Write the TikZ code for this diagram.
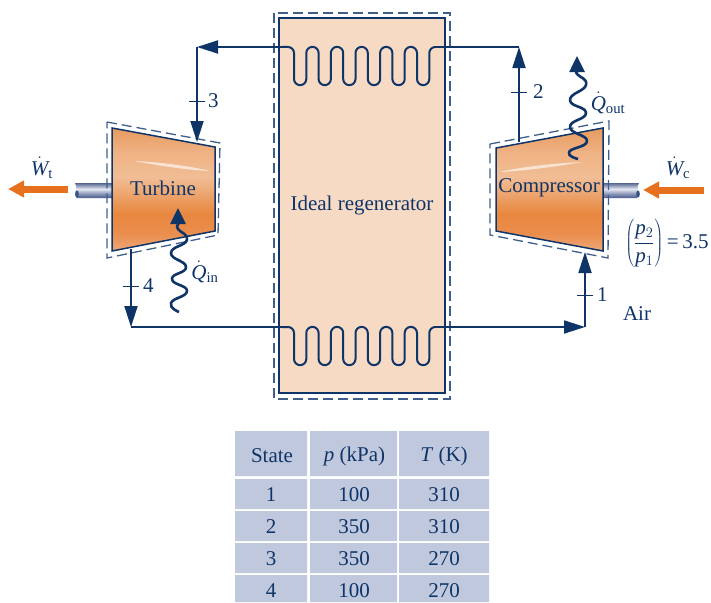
\documentclass[tikz,border=0pt]{standalone}
\usepackage{fontspec}
\setmainfont{Liberation Serif}
\usetikzlibrary{arrows.meta, positioning, calc}

\definecolor{navy}{HTML}{0F3468}
\definecolor{dashblue}{HTML}{3F5F8A}
\definecolor{regenfill}{HTML}{F7DAC4}
\definecolor{workorange}{HTML}{E6701E}
\definecolor{tablefill}{HTML}{C0C8DD}
\definecolor{mca}{HTML}{EFA877}
\definecolor{mcb}{HTML}{EA8E4E}
\definecolor{mcc}{HTML}{E8873F}
\definecolor{mcd}{HTML}{F1BD95}
\definecolor{mce}{HTML}{EFB384}
\definecolor{mcf}{HTML}{E79A5F}
\definecolor{sca}{HTML}{4A5A88}
\definecolor{scb}{HTML}{8490B5}
\definecolor{scc}{HTML}{E4E8F2}
\definecolor{scd}{HTML}{55658F}

\pgfdeclareverticalshading{machineshade}{100bp}{
    color(0bp)=(mca); color(25bp)=(mca); color(32bp)=(mcb);
    color(40bp)=(mcc); color(55bp)=(mcd); color(65bp)=(mce);
    color(75bp)=(mcf); color(100bp)=(mcf)}
\pgfdeclareverticalshading{shaftshade}{100bp}{
    color(0bp)=(sca); color(25bp)=(sca); color(38bp)=(scb);
    color(55bp)=(scc); color(75bp)=(scd); color(100bp)=(scd)}

\tikzset{
    coil/.pic={
        \coordinate (-in) at (0,0);
        \draw[flow, line width=2pt] (-in) -- ++(6,0) arc[start angle=90, end angle=0, radius=6pt] -- ++(0,26)
            foreach \n in {1,...,5} {
                arc[start angle=180, end angle=360, radius=6.15pt] -- ++(0,-26)
                arc[start angle=180, end angle=0, radius=6.15pt] -- ++(0,26)
            }
            arc[start angle=180, end angle=360, radius=6.15pt] -- ++(0,-26)
            arc[start angle=180, end angle=90, radius=6pt] coordinate (-out);
    }
}

\begin{document}
\begin{tikzpicture}[
    x=1pt, y=-1pt,
    every node/.style={font=\fontsize{21}{24}\selectfont, text=navy, inner sep=0pt},
    flow/.style={draw=navy, line width=1.8pt, line join=round},
    arrow/.style={flow, -{Triangle[length=21pt, width=13pt]}},
    wave/.style={flow, line width=2.6pt, -{Triangle[length=16pt, width=15pt]}},
    tick/.style={navy, line width=1pt},
    boundary/.style={draw=dashblue, line width=1.3pt, dash pattern=on 10pt off 5pt},
    machine/.style={draw=navy, line width=1.5pt},
    work/.style={draw=workorange, line width=7pt, -{Triangle[length=16pt, width=16pt]}},
    cell/.style={fill=tablefill},
    glint/.style={fill=white, fill opacity=0.6},
    lbl/.style={}
]
\useasboundingbox (0,0) rectangle (711,602);

% ============ REGENERATOR ============
\path[fill=regenfill, draw=navy, line width=1.5pt] (279,18) rectangle (445,393);
\path[boundary] (274,13) rectangle (450,399);
\node[lbl] (regen) at (362,205) {Ideal regenerator};

% ============ TURBINE ============
\shade[shading=shaftshade] (112,183) -- (75,183) .. controls (79,188) and (72,193) .. (77,198) -- (112,198) -- cycle;
\fill[navy!85] (77,194) ellipse (1.8 and 3.5);
\shade[shading=machineshade] (112,128) -- (215,147) -- (215,231) -- (112,251) -- cycle;
\draw[machine] (112,128) -- (215,147) -- (215,231) -- (112,251) -- cycle;
\fill[glint] (134,161) .. controls (160,162) and (190,166) .. (210,171) .. controls (185,170) and (155,165) .. (134,161) -- cycle;
\path[boundary] (107,122) -- (220,143) -- (218,235) -- (107,258) -- cycle;
\node[lbl] (turbine) at (163,188) {Turbine};

% ============ COMPRESSOR ============
\shade[shading=shaftshade] (603,183) -- (639,183) .. controls (635,188) and (641,193) .. (637,198) -- (603,198) -- cycle;
\fill[navy!85] (638,194) ellipse (1.8 and 3.5);
\shade[shading=machineshade] (496,148) -- (603,128) -- (603,251) -- (496,231) -- cycle;
\draw[machine] (496,148) -- (603,128) -- (603,251) -- (496,231) -- cycle;
\fill[glint] (500,172) .. controls (525,166) and (560,163) .. (582,162) .. controls (560,166) and (525,171) .. (500,172) -- cycle;
\path[boundary] (490,144) -- (609,121) -- (608,258) -- (490,235) -- cycle;
\node[lbl] (compressor) at (549,188) {Compressor};

% ============ COILS ============
\pic (coiltop) at (282,47) {coil};
\pic (coilbot) at (282,327) {coil};

% ============ CONNECTIONS ============
\coordinate (state2) at (519,142);
\coordinate (corner2) at (519,47);
\coordinate (corner3) at (197,47);
\coordinate (state3) at (197,142);
\coordinate (state4) at (131,249);
\coordinate (corner4) at (131,327);
\coordinate (corner1) at (585,327);
\coordinate (state1) at (585,252);

\draw[arrow] (state2) -- (corner2);
\draw[flow] (corner2) -- (coiltop-out);
\draw[arrow] (coiltop-in) -- (corner3);
\draw[arrow] (corner3) -- (state3);
\draw[arrow] (state4) -- (corner4);
\draw[flow] (corner4) -- (coilbot-in);
\draw[arrow] (coilbot-out) -- (corner1);
\draw[arrow] (corner1) -- (state1);

% Heat transfer
\draw[wave] plot[smooth, tension=0.9] coordinates {(179,312) (171,303) (187,291) (172,279) (186,267) (171,253) (187,240) (178,229) (178,225)} -- (178,208);
\draw[wave] plot[smooth, tension=0.9] coordinates {(578,159) (569,152) (587,141) (570,127) (586,113) (570,100) (586,85) (577,74) (577,72)} -- (577,56);

% Work
\coordinate (workt-a) at (68,189);
\coordinate (workt-b) at (8,189);
\coordinate (workc-a) at (704,190);
\coordinate (workc-b) at (643,190);
\draw[work] (workt-a) -- (workt-b);
\draw[work] (workc-a) -- (workc-b);

% ============ STATE TICKS ============
\coordinate (tick3) at (197,101);
\coordinate (tick4) at (131,286);
\coordinate (tick2) at (519,92);
\coordinate (tick1) at (585,295);
\foreach \t in {tick1,tick2,tick3,tick4}
    \draw[tick] ($(\t)+(-8,0)$) -- ($(\t)+(8,0)$);
\node[lbl, right=11pt of tick3] (lab3) {3};
\node[lbl, right=12pt of tick4] (lab4) {4};
\node[lbl, right=14pt of tick2] (lab2) {2};
\node[lbl, right=12pt of tick1] (lab1) {1};

% ============ LABELS ============
\node[lbl] (wt) at (42,168) {$\dot{\mathit{W}}_{\mathrm{t}}$};
\node[lbl] (wc) at (678,168) {$\dot{\mathit{W}}_{\mathrm{c}}$};
\node[lbl] (qin) at (205,272) {$\dot{\mathit{Q}}_{\mathrm{in}}$};
\node[lbl] (qout) at (608,103) {$\dot{\mathit{Q}}_{\mathrm{out}}$};
\node[lbl] (air) at (637,314) {Air};
\node[lbl] (ratio) at (667,243) {$\left(\displaystyle\frac{\mathit{p}_2}{\mathit{p}_1}\right)$\,=\,3.5};

% ============ STATE TABLE ============
\fill[cell] (235,431) rectangle (307,476) (310,431) rectangle (397,476) (399,431) rectangle (489,476);
\foreach \ya/\yb in {479/509, 511/541, 543/573, 575/602}
    \fill[cell] (235,\ya) rectangle (307,\yb) (310,\ya) rectangle (397,\yb) (399,\ya) rectangle (489,\yb);
\node[lbl] (headstate) at (272,456) {State};
\node[lbl] (headp) at (354.5,456) {\textit{p} (kPa)};
\node[lbl] (headt) at (444,456) {\textit{T} (K)};
\foreach \y/\s/\p/\T in {495/1/100/310, 527/2/350/310, 559/3/350/270, 591/4/100/270} {
    \node[lbl] (state\s) at (271,\y) {\s};
    \node[lbl] (press\s) at (354,\y) {\p};
    \node[lbl] (temp\s) at (444,\y) {\T};
}

\end{tikzpicture}
\end{document}
